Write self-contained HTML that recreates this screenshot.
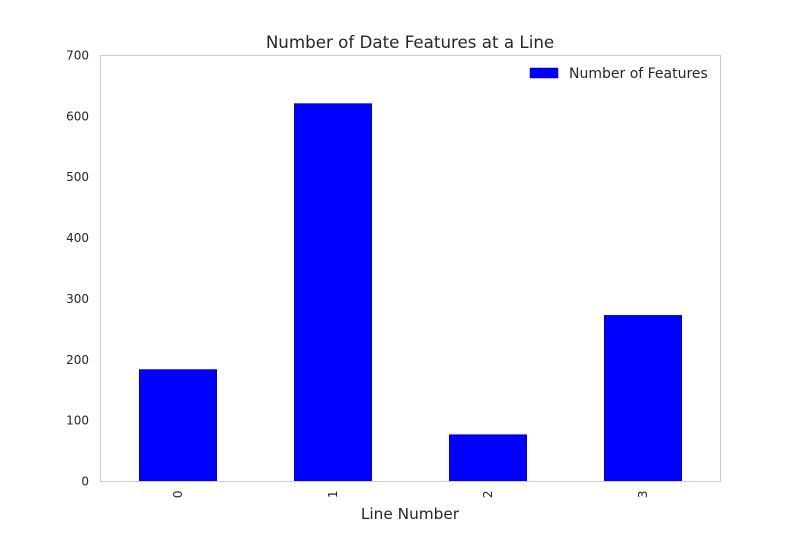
<!DOCTYPE html>
<html><head><meta charset="utf-8"><style>
body{margin:0;background:#fff;}
svg text{font-family:"DejaVu Sans","Liberation Sans",sans-serif;fill:#262626;}
</style></head><body>
<svg id="chart" width="800" height="550" xmlns="http://www.w3.org/2000/svg">
<rect x="0" y="0" width="800" height="550" fill="#fff"/>
<text x="410" y="48" font-size="16.7" text-anchor="middle">Number of Date Features at a Line</text>
<g id="yticks"></g>
<g id="bars"></g>
<g id="xticks"></g>
<rect x="100.5" y="55.5" width="620" height="426" fill="none" stroke="#cccccc" stroke-width="1"/>
<text x="410" y="519" font-size="15.3" text-anchor="middle">Line Number</text>
<g>
<rect x="530" y="68" width="28" height="10" fill="#0000ff" stroke="#0000aa" stroke-width="0.5"/>
<text x="569" y="78" font-size="14">Number of Features</text>
</g>
</svg>
<script>
const categories = ["0","1","2","3"];
const values = [184, 621, 77, 273];
const yTicks = [0,100,200,300,400,500,600,700];
const NS="http://www.w3.org/2000/svg";
const x0=100.5,x1=720.5,yTop=55.5,yBot=481.5,yMax=700;
function yScale(v){return yBot-(v/yMax)*(yBot-yTop);}
function xScale(i){return x0+(i+0.5)*(x1-x0)/categories.length;}
const bw=(x1-x0)/categories.length*0.5;
const yt=document.getElementById('yticks');
yTicks.forEach(t=>{
  const tx=document.createElementNS(NS,'text');
  tx.setAttribute('x',89);tx.setAttribute('y',yScale(t)+4);
  tx.setAttribute('font-size',12);tx.setAttribute('text-anchor','end');
  tx.textContent=t;
  
  
  yt.appendChild(tx);
});
const bg=document.getElementById('bars'),xt=document.getElementById('xticks');
values.forEach((v,i)=>{
  const r=document.createElementNS(NS,'rect');
  const cx=xScale(i);
  r.setAttribute('x',cx-bw/2);r.setAttribute('y',yScale(v));
  r.setAttribute('width',bw);r.setAttribute('height',yBot-yScale(v));
  r.setAttribute('fill','#0000ff');r.setAttribute('stroke','#0000aa');r.setAttribute('stroke-width','0.5');
  
  
  bg.appendChild(r);
  const t=document.createElementNS(NS,'text');
  t.setAttribute('x',0);t.setAttribute('y',0);
  t.setAttribute('font-size',12);t.setAttribute('text-anchor','end');
  t.setAttribute('transform','translate('+(cx+4)+','+(yBot+9)+') rotate(-90)');
  t.textContent=categories[i];
  
  
  xt.appendChild(t);
});
</script>
</body></html>
